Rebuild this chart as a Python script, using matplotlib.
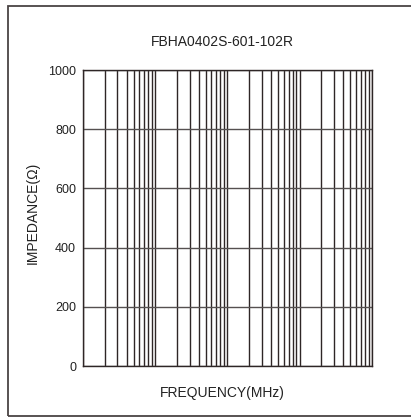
import matplotlib.pyplot as plt
from matplotlib.patches import Rectangle
from matplotlib.ticker import LogLocator, NullFormatter

plt.rcParams['font.family'] = ['Liberation Sans', 'DejaVu Sans']

part_name = "FBHA0402S-601-102R"
freq_range = [1, 10000]          # MHz, four decades, no labels shown
impedance_ticks = [0, 200, 400, 600, 800, 1000]

fig = plt.figure(figsize=(4.11, 4.17), dpi=100)
ax = fig.add_axes([0.202, 0.122, 0.703, 0.710])

ax.set_xscale('log')
ax.set_xlim(freq_range)
ax.set_ylim(impedance_ticks[0], impedance_ticks[-1])
ax.set_yticks(impedance_ticks)

# log grid: major + minor vertical lines, dark
ax.xaxis.set_major_locator(LogLocator(base=10, numticks=10))
ax.xaxis.set_minor_locator(LogLocator(base=10, subs=range(2, 10), numticks=100))
ax.xaxis.set_major_formatter(NullFormatter())
ax.xaxis.set_minor_formatter(NullFormatter())
ax.grid(True, which='both', axis='x', color='#2e2626', lw=1.0)
ax.grid(True, which='major', axis='y', color='#555050', lw=1.0)

ax.tick_params(axis='both', which='both', length=0)
ax.tick_params(axis='y', pad=5, labelsize=9, labelcolor='#222222')
for s in ax.spines.values():
    s.set_color('#2e2626')
    s.set_linewidth(1.0)

fig.text(0.54, 0.899, part_name, ha='center', va='center', fontsize=10, color='#222222')
fig.text(0.542, 0.058, "FREQUENCY(MHz)", ha='center', va='center', fontsize=10, color='#222222')
fig.text(0.08, 0.489, "IMPEDANCE(\u03a9)", ha='center', va='center', rotation=90,
         fontsize=10, color='#222222')

# outer frame (right side runs past the image edge)
fig.patches.append(Rectangle((0.019, 0.002), 1.1, 0.983, transform=fig.transFigure,
                             fill=False, edgecolor='#4a4444', lw=1.3, clip_on=False))

fig.savefig('out.png', dpi=100)
